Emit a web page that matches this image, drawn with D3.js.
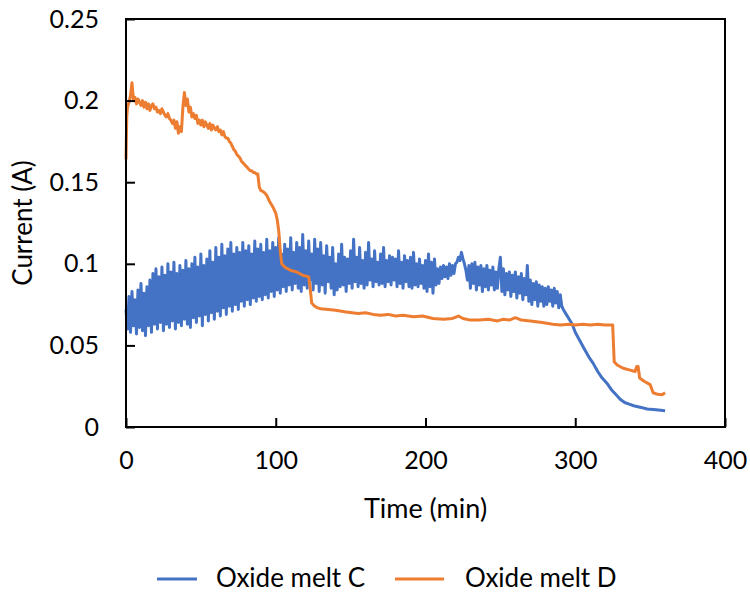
<!DOCTYPE html>
<html>
<head>
<meta charset="utf-8">
<script src="https://cdn.jsdelivr.net/npm/d3@7/dist/d3.min.js"></script>
<style>
  html, body { margin: 0; padding: 0; background: #fff; }
  svg { display: block; }
  text { font-family: Lato, "Open Sans", sans-serif; fill: #000; }
</style>
</head>
<body>
<svg id="chart" width="750" height="594"></svg>
<script>
// ---------- data ----------
const seriesNames = ["Oxide melt C", "Oxide melt D"];
const seriesColors = ["#4472C4", "#ED7D31"];
const xTicks = [0, 100, 200, 300, 400];
const yTicks = [0, 0.05, 0.1, 0.15, 0.2, 0.25];
const yTickLabels = ["0", "0.05", "0.1", "0.15", "0.2", "0.25"];

// Oxide melt C, sampled every 1 min from t = 0 to 139
const meltCFastStart = 0, meltCFastStep = 1;
const meltCFast = [
  0.072,0.060,0.080,0.058,0.083,0.062,0.078,0.057,0.084,0.061,
  0.088,0.059,0.082,0.056,0.086,0.062,0.090,0.058,0.094,0.063,
  0.097,0.060,0.092,0.064,0.098,0.059,0.093,0.063,0.100,0.061,
  0.095,0.065,0.101,0.060,0.094,0.064,0.099,0.062,0.096,0.066,
  0.102,0.063,0.097,0.061,0.100,0.067,0.104,0.064,0.098,0.068,
  0.106,0.062,0.099,0.069,0.103,0.065,0.108,0.070,0.101,0.066,
  0.110,0.071,0.104,0.068,0.112,0.073,0.105,0.069,0.109,0.074,
  0.113,0.071,0.106,0.075,0.110,0.072,0.107,0.077,0.113,0.074,
  0.108,0.078,0.111,0.075,0.106,0.079,0.114,0.077,0.109,0.080,
  0.112,0.078,0.107,0.081,0.115,0.079,0.108,0.083,0.113,0.080,
  0.110,0.084,0.116,0.082,0.106,0.086,0.112,0.083,0.109,0.087,
  0.116,0.084,0.107,0.088,0.113,0.085,0.110,0.083,0.118,0.087,
  0.108,0.085,0.114,0.090,0.106,0.084,0.115,0.088,0.109,0.083,
  0.113,0.087,0.105,0.082,0.111,0.089,0.104,0.085,0.110,0.081
];
// Oxide melt C, sampled every 1 min from t = 140 to 291
const meltCMidStart = 140, meltCMidStep = 1;
const meltCMid = [
  0.100,0.084,0.106,0.086,0.112,0.087,0.104,0.083,0.103,0.088,
  0.108,0.085,0.115,0.089,0.104,0.086,0.110,0.088,0.102,0.085,
  0.107,0.087,0.113,0.090,0.103,0.086,0.108,0.089,0.101,0.087,
  0.106,0.088,0.110,0.086,0.102,0.089,0.105,0.087,0.104,0.090,
  0.103,0.086,0.108,0.088,0.101,0.085,0.105,0.089,0.102,0.086,
  0.104,0.085,0.107,0.087,0.100,0.086,0.103,0.088,0.099,0.085,
  0.102,0.083,0.106,0.086,0.101,0.082,0.103,0.087,0.097,0.088,
  0.098,0.091,0.099,0.092,0.098,0.091,0.100,0.093,0.099,0.094,
  0.100,0.101,0.104,0.102,0.107,0.103,0.100,0.096,0.090,0.099,
  0.085,0.100,0.088,0.101,0.084,0.098,0.087,0.099,0.083,0.097,
  0.086,0.099,0.084,0.096,0.087,0.098,0.084,0.095,0.085,0.097,
  0.104,0.083,0.097,0.081,0.094,0.084,0.095,0.080,0.093,0.083,
  0.095,0.079,0.092,0.082,0.094,0.078,0.091,0.081,0.099,0.077,
  0.090,0.075,0.088,0.078,0.089,0.074,0.087,0.077,0.086,0.074,
  0.085,0.075,0.086,0.077,0.084,0.074,0.085,0.076,0.083,0.073,
  0.081,0.074
];
// Oxide melt C, decay tail [time, current]
const meltCTail = [
  [292,0.072],[294,0.069],[296,0.066],[298,0.063],[300,0.058],[303,0.053],
  [306,0.048],[309,0.043],[312,0.039],[315,0.034],[318,0.030],[321,0.027],
  [324,0.023],[327,0.020],[330,0.017],[333,0.015],[336,0.014],[339,0.013],
  [344,0.012],[348,0.011],[354,0.0105],[360,0.010]
];
// Oxide melt D [time, current]
const meltD = [
  [0,0.164],[0.5,0.190],[1,0.196],[2,0.199],[3,0.203],[4,0.211],[5,0.200],[6,0.202],
  [7,0.198],[8,0.201],[9,0.199],[10,0.197],[11,0.200],[12,0.196],[13,0.199],[14,0.195],
  [15,0.198],[16,0.194],[17,0.197],[18,0.198],[19,0.195],[20,0.196],[21,0.193],[22,0.194],
  [23,0.192],[24,0.195],[25,0.193],[26,0.191],[27,0.190],[28,0.192],[29,0.189],[30,0.188],
  [31,0.186],[32,0.188],[33,0.183],[34,0.187],[35,0.180],[36,0.184],[37,0.181],[38,0.196],
  [39,0.205],[40,0.197],[41,0.201],[42,0.193],[43,0.196],[44,0.190],[45,0.192],[46,0.189],
  [47,0.191],[48,0.186],[49,0.188],[50,0.185],[51,0.188],[52,0.184],[53,0.187],[54,0.185],
  [55,0.183],[56,0.186],[57,0.182],[58,0.185],[59,0.183],[60,0.182],[61,0.184],[62,0.181],
  [63,0.182],[64,0.179],[65,0.181],[66,0.178],[67,0.177],[68,0.177],[69,0.175],[70,0.174],
  [71,0.172],[72,0.170],[73,0.169],[74,0.167],[75,0.166],[76,0.165],[77,0.163],[78,0.162],
  [79,0.161],[80,0.160],[81,0.159],[82,0.158],[83,0.157],[84,0.157],[85,0.156],[86,0.156],
  [87,0.155],[88,0.155],[89,0.147],[90,0.145],[92,0.144],[94,0.142],[96,0.138],[98,0.135],
  [100,0.131],[101,0.127],[102,0.120],[103,0.108],[104,0.100],[106,0.098],[108,0.097],
  [110,0.096],[114,0.095],[118,0.093],[122,0.092],[123,0.085],[124,0.076],[126,0.074],
  [128,0.073],[130,0.0725],[135,0.072],[140,0.0715],[147,0.0705],[155,0.0695],[160,0.070],
  [165,0.069],[170,0.0685],[175,0.069],[180,0.068],[185,0.0685],[192,0.0675],[198,0.068],
  [205,0.0665],[212,0.066],[218,0.0665],[222,0.068],[225,0.0665],[230,0.0655],[236,0.0655],
  [242,0.066],[248,0.065],[252,0.066],[256,0.0655],[260,0.067],[264,0.0655],[270,0.065],
  [278,0.064],[285,0.063],[290,0.0625],[296,0.063],[300,0.0625],[305,0.063],[310,0.0625],
  [315,0.063],[320,0.0625],[325,0.0625],[326,0.040],[328,0.038],[332,0.036],[336,0.035],
  [340,0.034],[341,0.037],[342,0.037],[343,0.030],[346,0.028],[350,0.026],[352,0.021],
  [355,0.020],[358,0.0198],[360,0.021]
];

// ---------- build series ----------
const meltC = []
  .concat(meltCFast.map((v, i) => [meltCFastStart + i * meltCFastStep, v]))
  .concat(meltCMid.map((v, i) => [meltCMidStart + i * meltCMidStep, v]))
  .concat(meltCTail);
const allSeries = [meltC, meltD];

// ---------- layout ----------
const svg = d3.select("#chart");
const plotLeft = 126, plotRight = 725, plotTop = 19, plotBottom = 427;
const x = d3.scaleLinear().domain([0, 400]).range([plotLeft, plotRight]);
const y = d3.scaleLinear().domain([0, 0.25]).range([plotBottom, plotTop]);

// lines
const line = d3.line().x(d => x(d[0])).y(d => y(d[1]));
svg.append("g").selectAll("path")
  .data(allSeries)
  .join("path")
  .attr("d", line)
  .attr("fill", "none")
  .attr("stroke", (d, i) => seriesColors[i])
  .attr("stroke-width", 3)
  .attr("stroke-linejoin", "round");

// frame
svg.append("rect")
  .attr("x", plotLeft).attr("y", plotTop)
  .attr("width", plotRight - plotLeft).attr("height", plotBottom - plotTop)
  .attr("fill", "none").attr("stroke", "#000").attr("stroke-width", 2);

// axes with inward ticks
const xAxis = d3.axisBottom(x).tickValues(xTicks).tickSize(-9).tickPadding(24).tickFormat(d3.format("d"));
const gx = svg.append("g").attr("transform", `translate(0,${plotBottom})`).call(xAxis);
const yAxis = d3.axisLeft(y).tickValues(yTicks).tickSize(-9).tickPadding(27)
  .tickFormat((d, i) => yTickLabels[i]);
const gy = svg.append("g").attr("transform", `translate(${plotLeft},0)`).call(yAxis);
[gx, gy].forEach(g => {
  g.select(".domain").remove();
  g.selectAll(".tick line").attr("stroke", "#000").attr("stroke-width", 2);
  g.selectAll(".tick text").style("font-size", "25px").style("font-family", "Lato, 'Open Sans', sans-serif").attr("fill", "#000");
});

// axis titles
svg.append("text")
  .attr("x", (plotLeft + plotRight) / 2).attr("y", 518)
  .attr("text-anchor", "middle").style("font-size", "27px")
  .text("Time (min)");
svg.append("text")
  .attr("transform", `translate(32,${(plotTop + plotBottom) / 2}) rotate(-90)`)
  .attr("text-anchor", "middle").style("font-size", "26px")
  .text("Current (A)");

// legend
const legendItems = [
  {x1: 157, x2: 197, tx: 216},
  {x1: 395, x2: 444, tx: 465}
];
const lg = svg.append("g");
legendItems.forEach((it, i) => {
  lg.append("line").attr("x1", it.x1).attr("x2", it.x2).attr("y1", 579).attr("y2", 579)
    .attr("stroke", seriesColors[i]).attr("stroke-width", 3);
  lg.append("text").attr("x", it.tx).attr("y", 587).style("font-size", "26px").text(seriesNames[i]);
});
</script>
</body>
</html>
